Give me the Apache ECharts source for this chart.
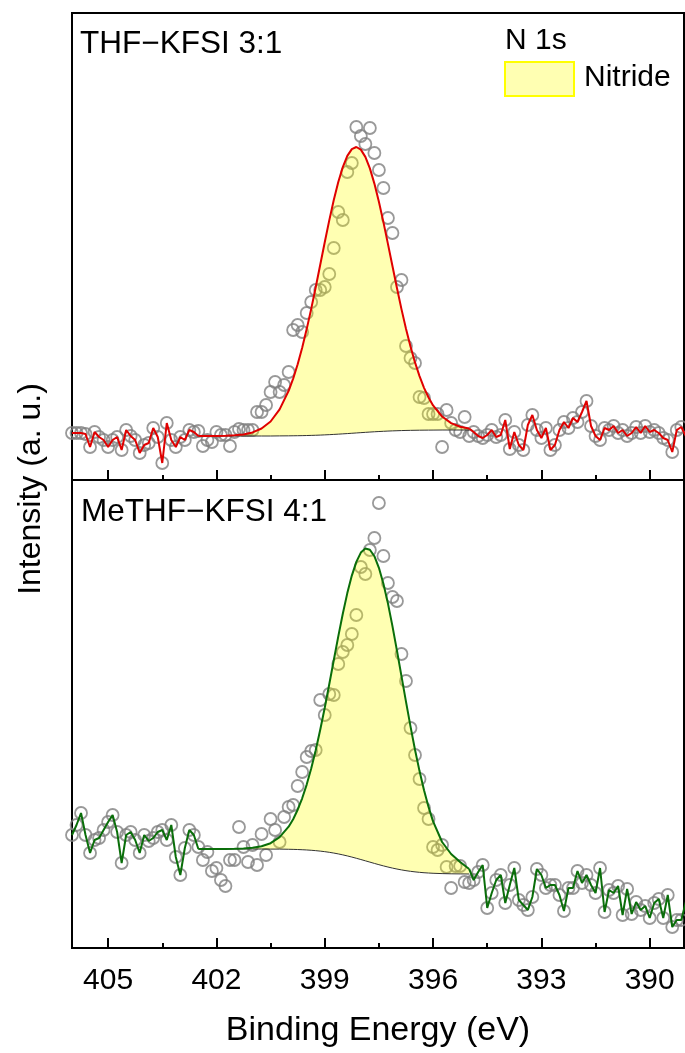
<!DOCTYPE html>
<html>
<head>
<meta charset="utf-8">
<script src="https://cdn.jsdelivr.net/npm/echarts@6.0.0/dist/echarts.min.js"></script>
<style>
  html, body { margin: 0; padding: 0; background: #fff; }
  #main { width: 685px; height: 1053px; }
</style>
</head>
<body>
<div id="main"></div>
<script>
// measurement grid: 406 eV down to 389 eV, 0.125 eV step
var eStart = 406, eStep = 0.125;

// THF-KFSI 3:1 raw counts (a.u.)
var thfCounts = [
  47,47,47,46,33,48,43,40,33,40,
  43,30,50,44,40,27,35,37,52,43,
  17,57,40,33,43,40,50,48,49,34,
  40,38,48,45,45,34,48,51,50,50,
  50,68,68,75,88,98,88,95,108,150,
  155,148,167,178,190,190,193,206,232,268,
  260,308,317,353,344,336,352,327,310,292,
  262,247,193,200,134,122,117,83,82,66,
  66,66,33,70,57,50,48,63,44,48,
  44,42,45,50,43,45,60,31,48,35,
  30,55,65,50,42,52,30,35,50,58,
  52,62,58,68,79,54,44,40,52,50,
  54,47,50,44,47,53,47,54,48,50,
  47,42,40,28,50,53,44
];

// MeTHF-KFSI 4:1 raw counts (a.u.)
var meCounts = [
  113,123,135,113,95,108,110,118,126,133,
  116,85,113,116,108,95,113,107,110,116,
  118,108,123,91,73,100,118,113,101,88,
  96,77,80,68,62,88,88,121,101,86,
  103,83,114,93,129,118,106,131,141,143,
  162,176,191,197,198,248,233,254,253,284,
  296,303,314,333,381,374,398,410,445,392,
  365,351,347,294,267,220,193,169,140,129,
  101,98,103,81,60,82,82,66,65,68,
  76,83,40,55,68,73,45,63,80,48,
  43,38,51,79,73,60,63,63,53,37,
  60,60,77,65,73,63,55,80,36,58,
  55,62,33,59,34,46,38,42,30,45,
  49,30,53,21,28,28,46
];

// fitted region: energies of the envelope / background samples
var fitE = [402.5,402.25,402,401.75,401.5,401.25,401,400.75,400.5,400.25,
  400,399.875,399.75,399.625,399.5,399.375,399.25,399.125,399,398.875,
  398.75,398.625,398.5,398.375,398.25,398.125,398,397.875,397.75,397.625,
  397.5,397.375,397.25,397.125,397,396.875,396.75,396.625,396.5,396.375,
  396.25,396.125,396,
  395.75,395.5,395.25,395];

var thfFit = [44,44,44,44.3,44.7,45.6,47.6,51.5,58.5,70.6,
  89.2,101.4,115.8,132.3,150.9,171.1,192.8,215.2,237.7,259.6,
  280.0,298.0,312.9,324.1,330.9,333.0,330.4,323.1,311.6,296.4,
  278.2,257.9,236.1,214.0,192.0,170.9,151.3,133.5,117.6,103.9,
  92.2,82.5,74.6,
  63.5,56.9,53.3,51.5];
var thfBase = [44,44,44,44,44,44,44,44,44,44.1,
  44.16,44.22,44.29,44.37,44.48,44.6,44.75,44.92,45.12,45.34,
  45.58,45.85,46.13,46.42,46.73,47.04,47.35,47.65,47.94,48.22,
  48.48,48.71,48.93,49.12,49.28,49.43,49.55,49.65,49.73,49.8,
  49.85,49.89,49.92,
  50,50,50,50];

var meFit = [99,99,99,99,99.2,99.5,100.2,101.7,104.8,110.9,
  121.3,128.8,138.3,149.7,163.4,179.4,197.8,218.2,240.3,263.8,
  287.7,311.6,334.2,354.9,372.4,386.1,395.4,399.5,398.3,391.8,
  380.2,364.3,344.6,321.9,297.4,271.9,246.4,221.6,198.3,176.9,
  157.7,141.0,126.6,
  106,94,86,79];
var meBase = [99,99,99,99,99,99,99,99,98.9,98.9,
  98.73,98.62,98.47,98.28,98.04,97.73,97.35,96.89,96.34,95.69,
  94.94,94.08,93.13,92.08,90.94,89.73,88.47,87.18,85.88,84.58,
  83.32,82.11,80.97,79.92,78.96,78.1,77.34,76.68,76.13,75.66,
  75.28,74.97,74.73,
  74.4,74.2,74.1,74];

var majorTicks = [390, 393, 396, 399, 402, 405];
var minorTicks = [391.5, 394.5, 397.5, 400.5, 403.5];

var FONT = '"Liberation Sans", Arial, sans-serif';

function pairs(xs, ys) {
  return ys.map(function (v, k) { return [xs[k], v]; });
}
function rawPoints(counts) {
  return counts.map(function (v, k) { return [eStart - k * eStep, v]; });
}
function leftNoise(counts, fit) {
  var pts = rawPoints(counts).filter(function (p) { return p[0] > fitE[0]; });
  pts.push([fitE[0], fit[0]]);
  return pts;
}
function rightNoise(counts, fit) {
  var last = fitE.length - 1;
  var pts = [[fitE[last], fit[last]]];
  return pts.concat(rawPoints(counts).filter(function (p) { return p[0] < fitE[last]; }));
}
function fillRender(fit, base) {
  return function (params, api) {
    var pts = [], k;
    for (k = 0; k < fitE.length; k++) pts.push(api.coord([fitE[k], fit[k]]));
    for (k = fitE.length - 1; k >= 0; k--) pts.push(api.coord([fitE[k], base[k]]));
    return {
      type: 'polygon',
      shape: { points: pts },
      style: { fill: 'rgba(255,255,0,0.3)' },
      silent: true
    };
  };
}

function xAxes(gi, withLabels) {
  var major = {
    gridIndex: gi, type: 'value', min: 389.05, max: 406, inverse: true, position: 'bottom',
    axisLine: { show: false },
    splitLine: { show: false },
    axisTick: { show: true, inside: true, length: 10, customValues: majorTicks,
      lineStyle: { color: '#000', width: 2 } },
    axisLabel: withLabels ? { show: true, customValues: majorTicks, fontSize: 30,
      color: '#000', margin: 18, fontFamily: FONT } : { show: false }
  };
  if (withLabels) {
    major.name = 'Binding Energy (eV)';
    major.nameLocation = 'middle';
    major.nameGap = 66;
    major.nameTextStyle = { fontSize: 34, color: '#000', fontFamily: FONT };
  }
  var minor = {
    gridIndex: gi, type: 'value', min: 389.05, max: 406, inverse: true, position: 'bottom',
    axisLine: { show: false },
    splitLine: { show: false },
    axisTick: { show: true, inside: true, length: 5, customValues: minorTicks,
      lineStyle: { color: '#000', width: 2 } },
    axisLabel: { show: false }
  };
  return [major, minor];
}

function panelSeries(xi, yi, counts, fit, base, color) {
  return [{
    type: 'scatter', xAxisIndex: xi, yAxisIndex: yi, z: 2,
    symbol: 'circle', symbolSize: 12,
    itemStyle: { color: 'rgba(0,0,0,0)', borderColor: '#808080', borderWidth: 1.8 },
    data: rawPoints(counts)
  }, {
    type: 'custom', xAxisIndex: xi, yAxisIndex: yi, z: 3,
    renderItem: fillRender(fit, base),
    data: [[fitE[0], fit[0]]]
  }, {
    type: 'line', xAxisIndex: xi, yAxisIndex: yi, z: 4,
    showSymbol: false,
    lineStyle: { color: '#333', width: 1 },
    data: pairs(fitE, base)
  }, {
    type: 'line', xAxisIndex: xi, yAxisIndex: yi, z: 5,
    showSymbol: false,
    lineStyle: { color: color, width: 2 },
    data: pairs(fitE, fit)
  }, {
    type: 'line', xAxisIndex: xi, yAxisIndex: yi, z: 5,
    showSymbol: false,
    lineStyle: { color: color, width: 2 },
    data: leftNoise(counts, fit)
  }, {
    type: 'line', xAxisIndex: xi, yAxisIndex: yi, z: 5,
    showSymbol: false,
    lineStyle: { color: color, width: 2 },
    data: rightNoise(counts, fit)
  }];
}

var chart = echarts.init(document.getElementById('main'), null, { renderer: 'canvas' });

var option = {
  animation: false,
  backgroundColor: '#fff',
  grid: [
    { left: 72, right: 1, top: 13, height: 467, show: true, borderColor: '#000', borderWidth: 2 },
    { left: 72, right: 1, top: 480, height: 468, show: true, borderColor: '#000', borderWidth: 2 }
  ],
  xAxis: xAxes(0, false).concat(xAxes(1, true)),
  yAxis: [
    { gridIndex: 0, type: 'value', min: 0, max: 467, show: false },
    { gridIndex: 1, type: 'value', min: 0, max: 468, show: false }
  ],
  series: panelSeries(0, 0, thfCounts, thfFit, thfBase, '#e00000')
    .concat(panelSeries(2, 1, meCounts, meFit, meBase, '#0a6e0a')),
  graphic: [
    { type: 'text', x: 80, y: 44, z: 10,
      style: { text: 'THF\u2212KFSI 3:1', font: '31.5px ' + FONT, fill: '#000', verticalAlign: 'middle' } },
    { type: 'text', x: 81, y: 512, z: 10,
      style: { text: 'MeTHF\u2212KFSI 4:1', font: '31.5px ' + FONT, fill: '#000', verticalAlign: 'middle' } },
    { type: 'text', x: 505, y: 41, z: 10,
      style: { text: 'N 1s', font: '30px ' + FONT, fill: '#000', verticalAlign: 'middle' } },
    { type: 'rect', x: 505, y: 62, z: 10,
      shape: { width: 69, height: 34 },
      style: { fill: 'rgba(255,255,0,0.3)', stroke: '#ffff00', lineWidth: 2 } },
    { type: 'text', x: 584, y: 78, z: 10,
      style: { text: 'Nitride', font: '30px ' + FONT, fill: '#000', verticalAlign: 'middle' } },
    { type: 'text', x: 31, y: 489, z: 10, rotation: Math.PI / 2,
      style: { text: 'Intensity (a. u.)', font: '32px ' + FONT, fill: '#000',
        align: 'center', verticalAlign: 'middle' } }
  ]
};

chart.setOption(option);
</script>
</body>
</html>
